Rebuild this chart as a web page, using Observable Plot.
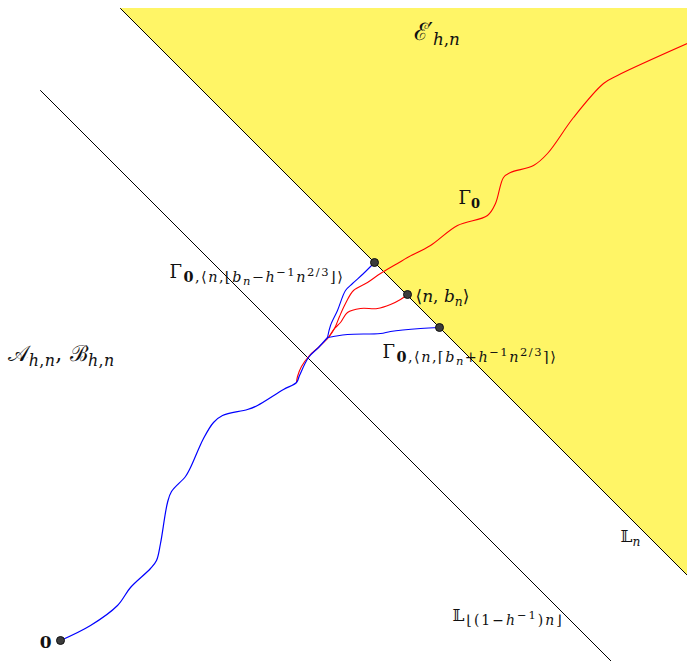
<!DOCTYPE html>
<html>
<head>
<meta charset="utf-8">
<script src="https://cdn.jsdelivr.net/npm/d3@7"></script>
<script src="https://cdn.jsdelivr.net/npm/@observablehq/plot@0.6"></script>
<style>
  html, body { margin: 0; padding: 0; background: #fff; }
</style>
</head>
<body>
<div id="chart"></div>
<script>
// Lattice coordinates, origin at the point 0, y pointing up.

// Anti-diagonal lines x + y = const: 𝕃_n and 𝕃_{⌊(1−h⁻¹)n⌋}
const lineSums = [692, 530];
const lineTops = [632, 550];

// Shared geodesic from 0 up to the branching region
const trunk = [
  [0, 0], [30, 15], [57, 35], [70, 53], [90, 72], [96, 80], [100, 97], [107, 138],
  [111, 149], [125, 164], [130, 173], [143, 202], [153, 218], [162, 225], [187, 231],
  [197, 235], [223, 251], [236, 258], [239, 265], [248, 283], [258, 293], [267, 303]
];
// Γ_0 continuing past 𝕃_n
const gammaRed = [
  [236, 258], [237, 264], [241, 274], [249, 285], [259, 294], [268, 303], [274, 312],
  [279, 324], [285, 337], [293, 350], [307, 358], [320, 367], [337, 377], [347, 383],
  [370, 395], [397, 415], [427, 425], [435, 437], [443, 463], [450, 468], [473, 475],
  [487, 487], [513, 523], [543, 557], [557, 565], [627, 597]
];
// Γ_{0,⟨n,b_n⟩}
const midRed = [
  [268, 303], [274, 312], [280, 318], [287, 328], [300, 332], [317, 332], [330, 336],
  [340, 341], [347, 346]
];
// Γ_{0,⟨n,⌊b_n − h⁻¹n^{2/3}⌋⟩}
const upperBlue = [
  [267, 303], [270, 315], [277, 330], [285, 350], [292, 357], [303, 367], [314, 378]
];
// Γ_{0,⟨n,⌈b_n + h⁻¹n^{2/3}⌉⟩}
const lowerBlue = [
  [267, 303], [273, 304], [287, 306], [320, 307], [330, 309], [360, 312], [379, 313]
];
// Marked vertices: 0 and the three endpoints on 𝕃_n
const vertices = [[0, 0], [314, 378], [347, 346], [379, 313]];

// Labels in a small TeX-like markup (_ subscript, ^ superscript, 𝟎 = bold zero)
const labelTex = [
  "ℰ′_{h,n}",
  "Γ_𝟎",
  "⟨n, b_n⟩",
  "Γ_{𝟎,⟨n,⌊b_n−h^{−1}n^{2/3}⌋⟩}",
  "Γ_{𝟎,⟨n,⌈b_n+h^{−1}n^{2/3}⌉⟩}",
  "𝒜_{h,n}, ℬ_{h,n}",
  "𝕃_n",
  "𝕃_{⌊(1−h^{−1})n⌋}",
  "𝟎"
];
const labelX = [353, 398, 355, 109, 322, -53, 560, 392, -9];
const labelY = [601, 437, 339, 363, 283, 280, 99, 20, -7];
const labelSize = [24, 18, 17, 18, 18, 22, 17, 17, 17];
const labelScript = [0.7, 0.72, 0.72, 0.8, 0.8, 0.72, 0.72, 0.82, 0.72];
const labelTracking = [0, 0, 0, 1.5, 1.5, 0.3, 0, 2, 0];
const labelAnchor = ["start", "start", "start", "start", "start", "start", "start", "start", "end"];

// ---- helpers ----
const toPts = (arr) => arr.map(([x, y]) => ({x, y}));

function parseTex(s) {
  let i = 0;
  const next = () => { const cp = String.fromCodePoint(s.codePointAt(i)); i += cp.length; return cp; };
  function group() {
    const out = [];
    while (i < s.length) {
      const c = s[i];
      if (c === "}") { i++; return out; }
      if (c === "_" || c === "^") {
        i++;
        let kids;
        if (s[i] === "{") { i++; kids = group(); } else kids = [{t: next()}];
        out.push({kind: c === "_" ? "sub" : "sup", kids});
        continue;
      }
      out.push({t: next()});
    }
    return out;
  }
  return group();
}
// Flatten into runs with a font size and a baseline shift
function layoutTex(nodes, size, shift, ratio, runs) {
  for (const n of nodes) {
    if (n.t !== undefined) runs.push({t: n.t, size, shift});
    else if (n.kind === "sub") layoutTex(n.kids, size * ratio, shift + size * 0.24, ratio, runs);
    else layoutTex(n.kids, size * ratio, shift - size * 0.4, ratio, runs);
  }
  return runs;
}
const plainOf = (tex) => tex.replace(/[_^{}]/g, "");

function styleOf(ch) {
  if (ch === "𝟎") return {t: "0", italic: false, bold: true};
  return {t: ch, italic: /[A-Za-z]/.test(ch), bold: false};
}

function fillTex(textEl, lab) {
  const runs = layoutTex(parseTex(lab.tex), lab.size, 0, lab.ratio, []);
  while (textEl.firstChild) textEl.removeChild(textEl.firstChild);
  for (const a of ["y", "dy"]) {
    const v = textEl.getAttribute(a);
    if (v && /em/.test(v)) textEl.removeAttribute(a);
  }
  textEl.setAttribute("xml:space", "preserve");
  textEl.style.whiteSpace = "pre";
  let prev = 0;
  for (const r of runs) {
    const s = styleOf(r.t);
    const ts = document.createElementNS("http://www.w3.org/2000/svg", "tspan");
    ts.setAttribute("font-size", r.size.toFixed(2));
    ts.setAttribute("font-style", s.italic ? "italic" : "normal");
    ts.setAttribute("font-weight", s.bold ? "bold" : "normal");
    if (lab.tracking) ts.setAttribute("letter-spacing", lab.tracking);
    if (r.shift !== prev) ts.setAttribute("dy", (r.shift - prev).toFixed(2));
    prev = r.shift;
    ts.textContent = s.t;
    textEl.appendChild(ts);
  }
}

// ---- derived tables ----
const diagLines = lineSums.map((s, i) => {
  const yTop = lineTops[i];
  const x0 = s - yTop;
  const x1 = Math.min(627, s + 21);
  return [{x: x0, y: yTop, k: i}, {x: x1, y: s - x1, k: i}];
}).flat();

const regionE = [
  {x: lineSums[0] - lineTops[0], y1: lineTops[0], y2: lineTops[0]},
  {x: 627, y1: lineSums[0] - 627, y2: lineTops[0]}
];

const labels = labelTex.map((tex, i) => ({
  x: labelX[i], y: labelY[i], tex, text: plainOf(tex), size: labelSize[i],
  ratio: labelScript[i], tracking: labelTracking[i], anchor: labelAnchor[i]
}));

const curve = "catmull-rom";
const chart = Plot.plot({
  width: 687,
  height: 661,
  margin: 0,
  x: {domain: [-60, 627], axis: null},
  y: {domain: [-21, 640], axis: null},
  marks: [
    Plot.areaY(regionE, {x: "x", y1: "y1", y2: "y2", fill: "#fff566"}),
    Plot.line(diagLines, {x: "x", y: "y", z: "k", stroke: "#000", strokeWidth: 1}),
    Plot.line(toPts(gammaRed), {x: "x", y: "y", stroke: "#ff0000", strokeWidth: 1.1, curve}),
    Plot.line(toPts(midRed), {x: "x", y: "y", stroke: "#ff0000", strokeWidth: 1.1, curve}),
    Plot.line(toPts(trunk), {x: "x", y: "y", stroke: "#0000ff", strokeWidth: 1.2, curve}),
    Plot.line(toPts(upperBlue), {x: "x", y: "y", stroke: "#0000ff", strokeWidth: 1.1, curve}),
    Plot.line(toPts(lowerBlue), {x: "x", y: "y", stroke: "#0000ff", strokeWidth: 1.1, curve}),
    Plot.dot(toPts(vertices), {x: "x", y: "y", r: 4, fill: "#3c3c3c", stroke: "#111", strokeWidth: 1}),
    ...labels.map((d) => Plot.text([d], {
      x: "x", y: "y", text: "text", textAnchor: d.anchor, lineAnchor: "bottom",
      fontFamily: "'DejaVu Serif', serif", fontSize: d.size, fill: "#111"
    }))
  ]
});

document.getElementById("chart").appendChild(chart);

// Typeset labels with sub/superscripts
for (const t of chart.querySelectorAll("text")) {
  const lab = labels.find((d) => d.text === t.textContent);
  if (!lab) continue;
  fillTex(t, lab);
}
</script>
</body>
</html>
